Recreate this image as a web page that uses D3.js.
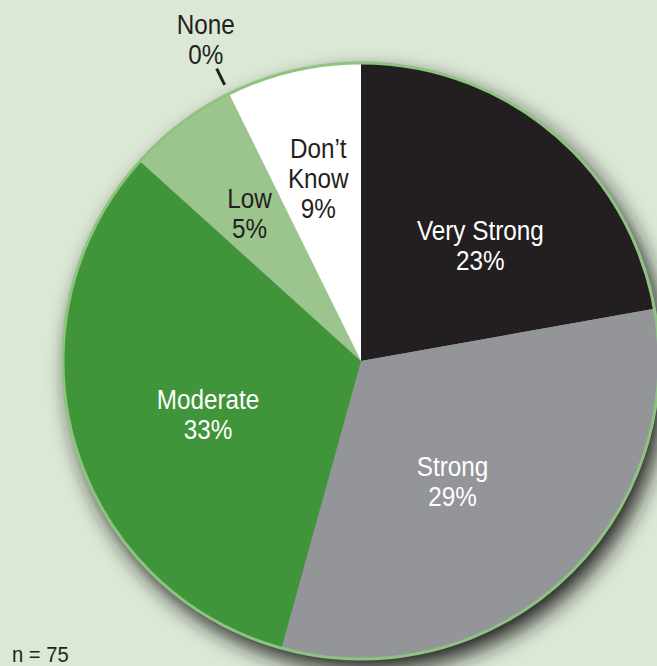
<!DOCTYPE html>
<html>
<head>
<meta charset="utf-8">
<script src="https://cdn.jsdelivr.net/npm/d3@7"></script>
<style>
  body { margin: 0; background: #dce8d6; }
  svg { display: block; }
</style>
</head>
<body>
<svg width="657" height="666"></svg>
<script>
// категории по часовой стрелке от верхней точки
const categories = ["Very Strong", "Strong", "Moderate", "Low", "None", "Don’t\nKnow"];
// подписи в процентах, как они напечатаны
const percentLabels = [23, 29, 33, 5, 0, 9];
const sliceShares = [22.2, 32.1, 32.4, 6.0, 0, 7.3];
const sampleSize = 75;

const colors = ["#231f20", "#939598", "#40953a", "#9cc58d", "#9cc58d", "#ffffff"];
const textColors = ["#ffffff", "#ffffff", "#ffffff", "#231f20", "#231f20", "#231f20"];

const data = categories.map((c, i) => ({ name: c, pct: percentLabels[i], share: sliceShares[i], i: i }));

const svg = d3.select("svg");
const attr_area = { cx: 361, cy: 361, r: 298 };

// тень под кругом
const defs = svg.append("defs");
const f = defs.append("filter").attr("id", "shadow")
  .attr("x", "-20%").attr("y", "-20%").attr("width", "140%").attr("height", "140%");
f.append("feDropShadow")
  .attr("dx", 7).attr("dy", 11)
  .attr("stdDeviation", 11)
  .attr("flood-color", "#1a1a1a")
  .attr("flood-opacity", 1);

const g = svg.append("g")
  .attr("transform", `translate(${attr_area.cx}, ${attr_area.cy})`);

g.append("circle")
  .attr("r", attr_area.r)
  .attr("fill", "#939598")
  .attr("filter", "url(#shadow)");

const pie = d3.pie().sort(null).value(d => d.share);
const arcs = pie(data);
const arc = d3.arc().innerRadius(0).outerRadius(attr_area.r);

g.selectAll(".slice")
  .data(arcs)
  .enter()
  .append("path")
  .attr("class", "slice")
  .attr("d", arc)
  .style("fill", d => colors[d.data.i]);

// светло-зелёная обводка круга
g.append("circle")
  .attr("r", attr_area.r)
  .attr("fill", "none")
  .attr("stroke", "#8dc47f")
  .attr("stroke-width", 3);

// положение подписей: радиус и поправка угла (градусы)
const labelLayout = {
  "Very Strong": { r: 166, da: 6 },
  "Strong": { r: 151, da: 5 },
  "Moderate": { r: 162, da: -3 },
  "Low": { r: 185, da: 0 },
  "None": { r: 357, da: 0.5 },
  "Don’t\nKnow": { r: 188, da: 0 }
};
const lineH = 30;

arcs.forEach(a => {
  const d = a.data;
  const lay = labelLayout[d.name];
  const ang = (a.startAngle + a.endAngle) / 2 + lay.da * Math.PI / 180;
  const x = lay.r * Math.sin(ang);
  const y = -lay.r * Math.cos(ang);
  const lines = d.name.split("\n").concat([d.pct + "%"]);
  // узкий шрифт: сжимаем по горизонтали
  const t = g.append("text")
    .attr("transform", `translate(${x}, ${y}) scale(0.9, 1)`)
    .attr("text-anchor", "middle")
    .style("font-family", "'Liberation Sans', Arial, sans-serif")
    .style("font-size", "27px")
    .style("fill", textColors[d.i]);
  lines.forEach((s, k) => {
    t.append("tspan")
      .attr("x", 0)
      .attr("y", (k - (lines.length - 1) / 2) * lineH)
      .attr("dy", "0.36em")
      .text(s);
  });
});

// отметка нулевого сектора None
const noneArc = arcs[4];
const tickLine = d3.lineRadial().angle(d => d[0]).radius(d => d[1]);
g.append("path")
  .attr("d", tickLine([[noneArc.startAngle, 308], [noneArc.startAngle, 326]]))
  .attr("stroke", "#231f20")
  .attr("stroke-width", 3)
  .attr("fill", "none");

svg.append("text")
  .attr("transform", "translate(12, 662) scale(0.92, 1)")
  .style("font-family", "'Liberation Sans', Arial, sans-serif")
  .style("font-size", "22px")
  .style("fill", "#231f20")
  .text(`n = ${sampleSize}`);
</script>
</body>
</html>
